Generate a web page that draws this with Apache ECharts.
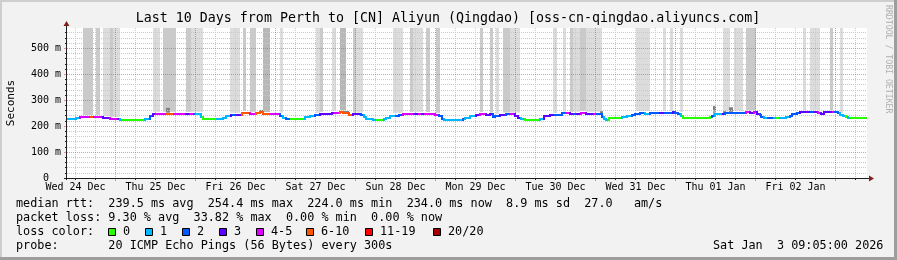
<!DOCTYPE html>
<html><head><meta charset="utf-8">
<script src="https://cdn.jsdelivr.net/npm/echarts@6.0.0/dist/echarts.min.js"></script>
<style>html,body{margin:0;padding:0;background:#f2f2f2}#c{width:897px;height:260px}</style>
</head><body><div id="c"></div><script>
// ---------------- data ----------------
const TITLE = 'Last 10 Days from Perth to [CN] Aliyun (Qingdao) [oss-cn-qingdao.aliyuncs.com]';
// x axis: hours since start of window (Wed 24 Dec 09:05 -> Sat 3 Jan 09:05)
const X_MAX = 240;
const Y_MAX = 578; // ms
const dayLabels = ['Wed 24 Dec','Thu 25 Dec','Fri 26 Dec','Sat 27 Dec','Sun 28 Dec','Mon 29 Dec','Tue 30 Dec','Wed 31 Dec','Thu 01 Jan','Fri 02 Jan'];
const dayLabelHours = [2.55, 26.55, 50.55, 74.55, 98.55, 122.55, 146.55, 170.55, 194.55, 218.55];
const midnightHours = [14.55, 38.55, 62.55, 86.55, 110.55, 134.55, 158.55, 182.55, 206.55, 230.55];
const minorHours = [2.55, 8.55, 20.55, 26.55, 32.55, 44.55, 50.55, 56.55, 68.55, 74.55, 80.55, 92.55, 98.55, 104.55, 116.55, 122.55, 128.55, 140.55, 146.55, 152.55, 164.55, 170.55, 176.55, 188.55, 194.55, 200.55, 212.55, 218.55, 224.55, 236.55];
const yMajor = [0, 100, 200, 300, 400, 500];
const yMinor = [20, 40, 60, 80, 120, 140, 160, 180, 220, 240, 260, 280, 320, 340, 360, 380, 420, 440, 460, 480, 520, 540, 560];

// median rtt steps: [start hour, median ms, loss class]
const medianSteps = [
 [0,229,1],[2.6,233,1],[3.9,236,4],[6.9,236,5],[7.8,236,4],[10.8,232,3],[12.9,229,4],[14.9,229,3],[15.9,225,1],[16.8,224,0],
 [23.3,229,1],[24.8,240,2],[25.8,245,3],[26.6,248,4],[29.6,248,5],[31.8,248,4],[33.8,245,4],[35.6,247,3],[36.8,248,4],[37.9,248,2],
 [38.6,247,1],[40.2,236,1],[40.8,227,0],[44.8,227,1],[46.7,233,1],[47.6,239,1],[49.3,243,3],[49.8,242,2],[50.9,244,3],[52.4,249,5],
 [53.4,252,5],[54.8,248,4],[56.8,251,5],[57.9,253,5],[58.8,247,5],[61.2,248,4],[62.8,245,4],[64.0,240,2],[64.8,233,1],[65.8,227,2],
 [66.9,227,0],[71.4,235,1],[72.9,238,1],[74.4,244,2],[75.9,248,3],[79.5,249,3],[80.4,252,4],[81.9,254,5],[82.8,251,5],[84.6,244,5],
 [85.8,245,3],[88.2,244,2],[89.0,236,1],[89.6,229,1],[91.7,225,1],[92.7,225,0],[95.0,227,1],[95.7,231,1],[96.9,238,1],[98.7,240,2],
 [99.7,244,2],[100.9,248,4],[104.1,245,3],[105.3,245,4],[106.2,245,3],[107.4,247,4],[110.5,244,4],[111.6,238,2],[112.4,229,2],[113.2,225,1],
 [118.2,225,0],[118.7,229,2],[119.4,231,1],[120.9,238,1],[122.7,243,3],[123.9,247,4],[125.7,244,3],[126.9,245,3],[127.8,236,2],[128.4,240,2],
 [129.9,244,3],[131.7,245,2],[132.9,245,4],[134.4,239,3],[135.3,233,3],[136.2,226,1],[137.3,224,0],[141.9,229,1],[143.1,239,3],[144.9,242,3],
 [146.4,244,2],[148.5,249,2],[149.7,252,4],[150.9,248,3],[152.1,245,2],[153.0,248,3],[154.1,252,4],[155.7,247,3],[156.9,245,3],[158.0,248,4],
 [158.9,247,2],[160.5,235,2],[161.1,229,1],[161.7,224,1],[162.6,233,0],[166.5,235,1],[168.0,238,1],[169.5,242,2],[170.4,248,2],[171.9,251,2],
 [173.4,248,1],[174.9,249,2],[177.9,251,3],[179.4,252,2],[181.8,254,3],[182.4,249,2],[183.3,247,2],[184.2,239,1],[184.8,231,0],[192.9,236,0],
 [193.5,240,2],[194.4,245,1],[195.0,247,1],[196.5,247,3],[197.4,249,2],[201.3,251,2],[202.8,252,2],[203.7,254,4],[204.9,252,3],[206.1,254,4],
 [207.0,248,3],[207.9,243,2],[208.2,236,2],[209.1,233,1],[210.0,233,2],[211.8,233,1],[212.7,233,0],[213.6,233,1],[215.6,236,1],[216.9,240,2],
 [217.5,245,2],[219.0,249,2],[219.9,254,3],[222.9,254,2],[224.4,253,3],[225.3,252,4],[226.2,248,3],[227.1,254,3],[229.5,254,4],[230.1,254,2],
 [231.3,249,2],[231.9,243,1],[232.8,238,1],[233.7,234,0],[234.3,231,1],[235.2,232,0]
];

// tall smoke columns (lost / very slow pings): [start hour, end hour, shade]
const smokeColumns = [
 [4.8,7.8,2],[8.7,9.9,2],[10.8,12.9,1],[12.9,13.8,2],[13.8,15.9,1],[25.8,27.9,1],[28.8,32.6,2],[35.7,37.2,2],[37.2,40.8,1],
 [49.0,52.0,1],[52.8,53.8,2],[54.8,56.8,2],[58.8,60.8,3],[63.8,64.8,1],[74.6,75.9,1],[75.9,76.8,2],[79.5,80.7,1],[81.9,83.7,3],
 [85.8,86.7,2],[86.7,88.8,1],[97.8,100.8,1],[102.9,103.9,2],[103.9,106.8,1],[107.7,108.8,2],[110.7,111.8,2],
 [123.9,124.8,2],[126.9,127.8,2],[128.7,129.7,1],[130.8,132.9,2],[132.9,135.9,1],[145.8,146.9,1],[148.7,149.7,1],
 [150.9,151.9,2],[151.9,154.0,1],[154.0,155.7,2],[155.7,160.5,1],[170.7,174.9,1],[178.7,179.7,1],[180.9,181.7,1],
 [183.9,184.7,1],[196.7,198.9,1],[200.1,202.8,1],[203.7,206.6,2],[220.9,221.6,1],[222.9,225.9,1],[228.9,229.7,2],[231.9,232.8,1]
];
// short smoke spikes above the median: [start hour, end hour, top ms]
const smokeSpikes = [
 [29.6,30.9,270],[57.8,58.8,262],[82.2,84.6,258],[159.9,160.7,257],[193.9,194.7,277],[196.7,197.7,257],[198.7,199.7,272]
];

const lossNames = ['0','1','2','3','4-5','6-10','11-19','20/20'];
const lossColors = ['#26ff00','#00b8ff','#0059ff','#5e00ff','#dd00ff','#ff5500','#ff0000','#a10000'];
const shadeColors = ['#ffffff','#dcdcdc','#cacaca','#b8b8b8'];

const legendRows = [
 'median rtt:  239.5 ms avg  254.4 ms max  224.0 ms min  234.0 ms now  8.9 ms sd  27.0   am/s',
 'packet loss: 9.30 % avg  33.82 % max  0.00 % min  0.00 % now',
 'loss color:',
 'probe:       20 ICMP Echo Pings (56 Bytes) every 300s'
];
const stampText = 'Sat Jan  3 09:05:00 2026';
const watermark = 'RRDTOOL / TOBI OETIKER';

// ---------------- layout ----------------
const GL = 67, GT = 28, GR = 867, GB = 178;
const MONO = '"DejaVu Sans Mono", "Liberation Mono", monospace';
const AXIS_C = '#1f1f1f', ARROW_C = '#801f1f';
const MINOR_C = '#c9c9c9', MAJOR_C = 'rgba(222,79,79,0.6)';

function medianAt(h) {
  let v = medianSteps[0][1];
  for (const s of medianSteps) { if (s[0] <= h + 1e-9) v = s[1]; else break; }
  return v;
}
function maxMedianIn(a, b) {
  let m = medianAt(a);
  for (const s of medianSteps) if (s[0] > a && s[0] < b) m = Math.max(m, s[1]);
  return m;
}

const lineRows = medianSteps.map((s, i) => [
  s[0], i + 1 < medianSteps.length ? medianSteps[i + 1][0] : X_MAX, s[1], s[2], i > 0 ? medianSteps[i - 1][1] : s[1]
]);
const colRows = smokeColumns.map(c => [c[0], c[1], maxMedianIn(c[0], c[1]) + 7, c[2]]);
const spikeRows = smokeSpikes.map(s => [s[0], s[1], medianAt(s[0]), s[2]]);

function renderLine(params, api) {
  const x0 = api.value(0), x1 = api.value(1), v = api.value(2), loss = api.value(3), pv = api.value(4);
  const a = api.coord([x0, v]), b = api.coord([x1, v]), p = api.coord([x0, pv]);
  const c = lossColors[loss];
  const xa = Math.round(a[0]), xb = Math.round(b[0]), y = Math.round(a[1]);
  const kids = [{ type: 'rect', shape: { x: xa, y: y - 1, width: Math.max(1, xb - xa), height: 2 }, style: { fill: c } }];
  if (pv !== v) {
    const yp = Math.round(p[1]);
    const top = Math.min(yp, y), h = Math.abs(yp - y);
    kids.push({ type: 'rect', shape: { x: xa - 1, y: top - 1, width: 2, height: h + 2 }, style: { fill: c } });
  }
  return { type: 'group', children: kids };
}
function renderCol(params, api) {
  const a = api.coord([api.value(0), Y_MAX]), b = api.coord([api.value(1), api.value(2)]);
  const xa = Math.round(a[0]), xb = Math.round(b[0]);
  return { type: 'rect', shape: { x: xa, y: a[1], width: Math.max(1, xb - xa), height: b[1] - a[1] }, style: { fill: shadeColors[api.value(3)] } };
}
function renderSpike(params, api) {
  const a = api.coord([api.value(0), api.value(3)]), b = api.coord([api.value(1), api.value(2)]);
  const xa = Math.round(a[0]), xb = Math.round(b[0]);
  return { type: 'group', children: [
    { type: 'rect', shape: { x: xa, y: a[1], width: Math.max(1, xb - xa), height: b[1] - a[1] }, style: { fill: '#a8a8a8' } },
    { type: 'rect', shape: { x: xa, y: a[1], width: Math.max(1, xb - xa), height: Math.min(4, b[1] - a[1]) }, style: { fill: '#808080' } }
  ]};
}

const chart = echarts.init(document.getElementById('c'), null, { renderer: 'canvas', width: 897, height: 260 });

function txt(text, x, y, size, opts) {
  opts = opts || {};
  return { type: 'text', x: x, y: y, rotation: opts.rotation || 0, z: 50, silent: true,
    style: { text: text, font: size + 'px ' + MONO, fill: opts.fill || '#000',
      align: opts.align || 'left', textAlign: opts.align || 'left', verticalAlign: 'middle', textVerticalAlign: 'middle' } };
}

const graphics = [];
// frame shading
graphics.push({ type: 'rect', shape: { x: 0, y: 0, width: 897, height: 2 }, style: { fill: '#cecece' }, z: 40 });
graphics.push({ type: 'rect', shape: { x: 0, y: 0, width: 2, height: 260 }, style: { fill: '#cecece' }, z: 40 });
graphics.push({ type: 'rect', shape: { x: 0, y: 257, width: 897, height: 3 }, style: { fill: '#9e9e9e' }, z: 40 });
graphics.push({ type: 'rect', shape: { x: 894, y: 0, width: 3, height: 260 }, style: { fill: '#9e9e9e' }, z: 40 });
// title & watermark
graphics.push(txt(TITLE, 448, 18.5, 13.3, { align: 'center' }));
graphics.push(txt(watermark, 888, 5, 8.2, { rotation: -Math.PI / 2, fill: '#b0b0b0' }));
graphics.push(txt('Seconds', 11, 103, 11, { rotation: Math.PI / 2, align: 'center' }));
// axes lines + arrows
graphics.push({ type: 'line', shape: { x1: GL - 0.5, y1: GB + 2, x2: GL - 0.5, y2: GT - 3 }, style: { stroke: AXIS_C, lineWidth: 1 }, z: 30 });
graphics.push({ type: 'line', shape: { x1: GL - 3, y1: GB + 0.5, x2: GR + 3, y2: GB + 0.5 }, style: { stroke: AXIS_C, lineWidth: 1 }, z: 30 });
graphics.push({ type: 'polygon', shape: { points: [[GL - 3.5, GT - 2], [GL + 2.5, GT - 2], [GL - 0.5, GT - 7]] }, style: { fill: ARROW_C }, z: 31 });
graphics.push({ type: 'polygon', shape: { points: [[GR + 2, GB - 2.5], [GR + 2, GB + 3.5], [GR + 7, GB + 0.5]] }, style: { fill: ARROW_C }, z: 31 });
// legend
const rowY = [204, 218, 232, 246];
legendRows.forEach((t, i) => graphics.push(txt(t, 16, rowY[i], 11.8)));
graphics.push(txt(stampText, 713, rowY[3], 11.8));
const boxX = [108, 145, 182, 219, 256, 306, 365, 433];
const lblX = [123, 160, 197, 234, 271, 321, 380, 448];
lossNames.forEach((n, i) => {
  graphics.push({ type: 'rect', shape: { x: boxX[i] + 0.5, y: rowY[2] - 3.5, width: 7, height: 7 }, style: { fill: lossColors[i], stroke: '#000', lineWidth: 1 }, z: 45 });
  graphics.push(txt(n, lblX[i], rowY[2], 11.8));
});

const baseAxis = { type: 'value', min: 0, axisLine: { show: false } };
chart.setOption({
  animation: false,
  backgroundColor: '#f2f2f2',
  grid: { left: GL, top: GT, width: GR - GL, height: GB - GT, show: true, backgroundColor: '#ffffff', borderWidth: 0 },
  xAxis: [
    Object.assign({}, baseAxis, { max: X_MAX, position: 'bottom', z: 3,
      axisTick: { show: true, customValues: minorHours, length: 2, lineStyle: { color: AXIS_C } },
      axisLabel: { show: false },
      splitLine: { show: true, lineStyle: { color: MINOR_C, type: [1, 1], width: 1 } } }),
    Object.assign({}, baseAxis, { max: X_MAX, position: 'bottom', z: 4,
      axisTick: { show: true, customValues: midnightHours, length: 3, lineStyle: { color: MAJOR_C } },
      axisLabel: { show: true, customValues: dayLabelHours, margin: 4, fontSize: 10, fontFamily: MONO, color: '#000',
        formatter: v => { let best = 0; dayLabelHours.forEach((h, i) => { if (Math.abs(h - v) < Math.abs(dayLabelHours[best] - v)) best = i; }); return dayLabels[best]; } },
      splitLine: { show: true, lineStyle: { color: MAJOR_C, type: [1, 1], width: 1 } } })
  ],
  yAxis: [
    Object.assign({}, baseAxis, { max: Y_MAX, position: 'left', z: 3,
      axisTick: { show: true, customValues: yMinor, length: 2, lineStyle: { color: AXIS_C } },
      axisLabel: { show: false },
      splitLine: { show: true, lineStyle: { color: MINOR_C, type: [1, 1], width: 1 } } }),
    Object.assign({}, baseAxis, { max: Y_MAX, position: 'left', z: 4,
      axisTick: { show: true, customValues: yMajor, length: 3, lineStyle: { color: MAJOR_C } },
      axisLabel: { show: true, customValues: yMajor, margin: 6, fontSize: 10, fontFamily: MONO, color: '#000',
        formatter: v => v === 0 ? '0  ' : (v + ' m') },
      splitLine: { show: true, lineStyle: { color: MAJOR_C, type: [1, 1], width: 1 } } })
  ],
  series: [
    { type: 'custom', name: 'smoke', xAxisIndex: 1, yAxisIndex: 1, z: 1, silent: true, clip: true,
      encode: { x: [0, 1], y: 2 }, data: colRows, renderItem: renderCol },
    { type: 'custom', name: 'spikes', xAxisIndex: 1, yAxisIndex: 1, z: 1, silent: true, clip: true,
      encode: { x: [0, 1], y: 2 }, data: spikeRows, renderItem: renderSpike },
    { type: 'custom', name: 'median rtt', xAxisIndex: 1, yAxisIndex: 1, z: 10, silent: true, clip: true,
      encode: { x: [0, 1], y: 2 }, data: lineRows, renderItem: renderLine }
  ],
  graphic: graphics
});
</script></body></html>
